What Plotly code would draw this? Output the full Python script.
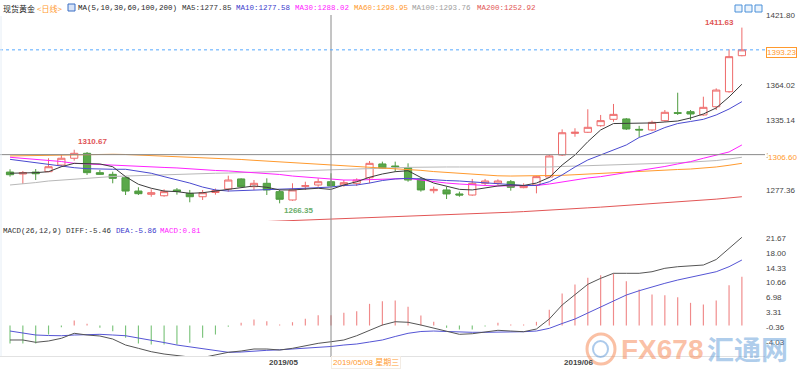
import plotly.graph_objects as go

# ---------------- data ----------------
dates = [
    "2019-04-03", "2019-04-04", "2019-04-05", "2019-04-08", "2019-04-09", "2019-04-10", "2019-04-11",
    "2019-04-12", "2019-04-15", "2019-04-16", "2019-04-17", "2019-04-18", "2019-04-19", "2019-04-22",
    "2019-04-23", "2019-04-24", "2019-04-25", "2019-04-26", "2019-04-29", "2019-04-30",
    "2019-05-01", "2019-05-02", "2019-05-03", "2019-05-06", "2019-05-07", "2019-05-08", "2019-05-09",
    "2019-05-10", "2019-05-13", "2019-05-14", "2019-05-15", "2019-05-16", "2019-05-17", "2019-05-20",
    "2019-05-21", "2019-05-22", "2019-05-23", "2019-05-24", "2019-05-27", "2019-05-28", "2019-05-29",
    "2019-05-30", "2019-05-31",
    "2019-06-03", "2019-06-04", "2019-06-05", "2019-06-06", "2019-06-07", "2019-06-10", "2019-06-11",
    "2019-06-12", "2019-06-13", "2019-06-14", "2019-06-17", "2019-06-18", "2019-06-19", "2019-06-20",
    "2019-06-21",
]
open_ = [1292.2, 1290.6, 1292.2, 1292.5, 1298.0, 1303.6, 1307.7, 1291.7, 1290.3, 1287.5,
         1276.5, 1273.8, 1272.6, 1277.4, 1274.6, 1271.8, 1275.3, 1278.2, 1286.5, 1280.1,
         1282.9, 1276.0, 1269.1, 1280.4, 1281.5, 1284.2, 1281.5, 1282.9, 1287.5, 1298.9,
         1297.2, 1295.8, 1286.5, 1276.8, 1277.4, 1274.1, 1273.2, 1282.9, 1282.9, 1284.2,
         1279.3, 1281.5, 1288.1, 1306.3, 1324.2, 1325.1, 1330.5, 1335.8, 1336.1, 1327.5,
         1327.0, 1334.7, 1341.3, 1342.1, 1339.4, 1346.2, 1358.6, 1388.4]
high = [1294.5, 1293.1, 1294.7, 1303.6, 1306.3, 1310.67, 1308.8, 1293.9, 1292.5, 1288.4,
        1279.6, 1277.9, 1277.9, 1279.0, 1277.4, 1277.4, 1278.6, 1289.2, 1287.0, 1285.6,
        1287.0, 1277.4, 1282.9, 1284.2, 1287.0, 1291.2, 1285.6, 1287.0, 1301.3, 1300.8,
        1300.8, 1299.4, 1287.9, 1280.1, 1280.1, 1276.0, 1286.5, 1286.5, 1286.2, 1285.6,
        1282.9, 1288.9, 1306.3, 1327.5, 1328.4, 1344.1, 1339.4, 1348.5, 1336.9, 1330.4,
        1334.7, 1343.5, 1357.8, 1343.5, 1354.5, 1361.4, 1393.7, 1411.63]
low = [1288.4, 1282.3, 1285.6, 1292.2, 1296.6, 1301.6, 1289.8, 1289.8, 1282.9, 1273.2,
       1273.2, 1271.8, 1271.8, 1273.5, 1267.2, 1269.1, 1273.5, 1276.0, 1279.6, 1277.4,
       1273.2, 1266.35, 1268.5, 1277.4, 1280.1, 1280.1, 1280.1, 1280.7, 1282.9, 1294.7,
       1292.5, 1284.2, 1276.0, 1274.6, 1269.9, 1271.8, 1272.6, 1281.5, 1281.5, 1276.8,
       1278.8, 1274.6, 1287.3, 1305.5, 1321.4, 1324.5, 1329.7, 1333.8, 1327.0, 1321.2,
       1326.1, 1333.8, 1339.4, 1335.2, 1338.8, 1343.5, 1357.8, 1387.9]
close = [1290.0, 1291.7, 1290.8, 1296.6, 1303.6, 1307.7, 1291.7, 1290.3, 1287.0, 1276.5,
         1274.3, 1275.1, 1276.0, 1276.1, 1271.8, 1275.1, 1276.9, 1285.6, 1280.1, 1282.9,
         1277.4, 1269.7, 1277.4, 1280.9, 1284.2, 1280.7, 1283.4, 1285.6, 1299.4, 1295.3,
         1296.6, 1285.6, 1277.4, 1277.9, 1274.1, 1273.2, 1282.9, 1284.8, 1284.8, 1279.6,
         1280.7, 1288.4, 1305.5, 1324.7, 1325.1, 1329.2, 1334.7, 1339.9, 1327.8, 1327.0,
         1333.3, 1341.6, 1340.8, 1340.2, 1345.7, 1360.0, 1387.6, 1393.23]

ma5 = [1291.2, 1291.2, 1291.7, 1292.5, 1296.6, 1299.4, 1299.4, 1298.9, 1296.6, 1288.4,
       1282.1, 1278.8, 1276.5, 1276.0, 1274.6, 1275.1, 1276.5, 1277.8, 1279.4, 1280.7,
       1279.6, 1277.4, 1277.4, 1278.2, 1278.8, 1277.85, 1281.5, 1284.2, 1287.9, 1290.6,
       1292.5, 1293.3, 1287.7, 1283.1, 1280.3, 1277.9, 1277.4, 1279.0, 1280.7, 1281.5,
       1281.1, 1283.1, 1287.7, 1298.0, 1306.3, 1317.3, 1327.0, 1332.3, 1332.5, 1332.5,
       1332.8, 1333.6, 1334.4, 1336.9, 1340.2, 1345.2, 1354.3, 1364.8]
ma10 = [1302.7, 1301.3, 1299.4, 1298.0, 1296.6, 1295.8, 1295.0, 1294.5, 1294.5, 1294.5,
        1293.1, 1291.2, 1288.4, 1285.9, 1283.1, 1279.8, 1277.4, 1276.5, 1276.8, 1277.1,
        1277.4, 1277.6, 1278.2, 1278.8, 1279.3, 1279.8, 1281.1, 1281.5, 1283.1, 1285.2,
        1286.5, 1287.0, 1286.5, 1285.6, 1285.2, 1284.8, 1284.0, 1283.1, 1282.3, 1281.5,
        1281.1, 1281.1, 1284.2, 1289.8, 1296.4, 1302.2, 1306.3, 1310.4, 1314.6, 1320.8,
        1324.5, 1329.0, 1332.3, 1334.0, 1335.8, 1339.4, 1344.3, 1350.4]
ma30 = [1304.4, 1303.6, 1303.0, 1302.2, 1300.9, 1299.4, 1298.9, 1298.0, 1297.6, 1297.2,
        1296.6, 1296.4, 1296.0, 1295.6, 1294.7, 1293.9, 1293.5, 1293.1, 1292.5, 1291.8,
        1291.2, 1290.2, 1288.9, 1288.1, 1287.3, 1286.5, 1285.6, 1285.6, 1286.0, 1286.5,
        1287.0, 1286.9, 1285.6, 1284.2, 1283.1, 1282.3, 1281.5, 1281.1, 1280.7, 1280.7,
        1280.7, 1281.1, 1282.3, 1284.0, 1285.6, 1287.3, 1288.4, 1290.0, 1291.8, 1293.5,
        1295.1, 1296.8, 1298.9, 1300.8, 1303.6, 1305.9, 1308.8, 1314.6]
ma60 = [1305.5, 1305.7, 1306.1, 1306.3, 1306.5, 1306.9, 1307.1, 1307.1, 1306.9, 1306.7,
        1306.3, 1305.9, 1305.5, 1305.0, 1304.6, 1304.2, 1303.8, 1303.2, 1302.6, 1301.9,
        1301.3, 1300.5, 1299.7, 1299.1, 1298.6, 1298.0, 1297.4, 1296.8, 1296.1, 1295.6,
        1295.1, 1294.5, 1293.6, 1292.6, 1291.8, 1291.0, 1290.2, 1289.5, 1289.1, 1288.9,
        1288.9, 1288.9, 1289.1, 1289.5, 1290.0, 1290.6, 1291.2, 1291.6, 1292.1, 1292.6,
        1293.2, 1293.9, 1294.3, 1294.7, 1295.3, 1296.4, 1297.8, 1299.4]
ma100 = [1281.5, 1282.3, 1283.5, 1284.8, 1285.6, 1286.5, 1287.3, 1288.1, 1288.5, 1288.9,
         1289.3, 1289.8, 1290.0, 1290.3, 1290.6, 1290.8, 1291.2, 1291.4, 1291.7, 1292.0,
         1292.2, 1292.5, 1292.8, 1293.1, 1293.4, 1293.7, 1294.1, 1294.5, 1294.9, 1295.3,
         1295.7, 1296.1, 1296.4, 1296.4, 1296.4, 1296.4, 1296.4, 1296.4, 1296.4, 1296.2,
         1296.1, 1296.1, 1296.4, 1296.8, 1297.2, 1297.6, 1298.0, 1298.3, 1298.6, 1298.9,
         1299.2, 1299.5, 1299.8, 1300.3, 1300.9, 1301.7, 1303.0, 1304.4]
ma200_first = 20   # index of the first MA200 value visible in the pane
ma200 = [1251.3, 1251.7, 1252.2, 1252.6, 1252.8, 1252.92, 1253.4, 1253.8, 1254.2, 1254.6,
         1255.0, 1255.4, 1255.9, 1256.3, 1256.7, 1257.1, 1257.5, 1258.0, 1258.5, 1259.0,
         1259.5, 1260.0, 1260.6, 1261.2, 1261.9, 1262.6, 1263.2, 1263.9, 1264.5, 1265.2,
         1265.9, 1266.6, 1267.4, 1268.1, 1268.9, 1269.8, 1270.8, 1271.8]

diff = [-3.60, -3.60, -4.18, -3.85, -3.18, -1.94, -2.36, -2.61, -3.36, -4.85,
        -5.67, -6.51, -7.09, -7.46, -7.83, -7.96, -7.33, -6.66, -6.34, -5.84,
        -5.84, -6.09, -5.67, -5.02, -4.43, -4.03, -3.60, -2.54, -1.12, 0.12,
        0.94, 0.80, 0.12, -0.70, -1.37, -2.19, -2.04, -1.69, -1.19, -1.37,
        -1.54, -0.87, 1.62, 5.10, 7.76, 10.24, 11.73, 12.98, 12.98, 12.98,
        13.37, 14.22, 14.62, 14.92, 15.04, 16.41, 19.27, 21.93]
dea = [-1.37, -1.86, -2.36, -2.49, -2.54, -2.36, -2.24, -2.19, -2.36, -2.54,
       -3.11, -3.60, -4.23, -4.85, -5.34, -5.67, -6.22, -6.66, -6.59, -6.34,
       -6.17, -6.04, -5.84, -5.67, -5.47, -5.22, -4.85, -4.60, -4.10, -3.60,
       -2.73, -1.94, -1.49, -1.37, -1.49, -1.62, -1.69, -1.69, -1.69, -1.62,
       -1.54, -1.37, -0.70, 0.50, 1.62, 3.11, 4.67, 6.09, 7.58, 8.65,
       9.65, 10.49, 11.31, 11.98, 12.68, 13.37, 14.62, 16.28]
macd = [-4.47, -4.47, -4.47, -2.24, -0.42, 1.24, 0.42, -0.57, -1.42, -3.06,
        -4.47, -4.72, -4.72, -4.72, -4.30, -3.06, -2.24, -0.32, 0.67, 1.49,
        1.07, 0.25, 0.82, 1.67, 2.56, 2.56, 3.16, 3.55, 5.39, 6.04,
        6.22, 4.65, 2.49, 0.92, -0.57, -0.99, -0.99, -0.25, 0.67, 0.25,
        0.25, 0.92, 3.90, 7.96, 10.19, 11.86, 12.50, 12.93, 11.01, 8.95,
        7.71, 7.53, 7.04, 5.64, 5.22, 6.22, 10.02, 12.11]

price_ticks = [1277.36, 1306.25, 1335.14, 1364.02, 1392.91, 1421.80]
macd_ticks = [21.67, 18.00, 14.33, 10.66, 6.98, 3.31, -0.36, -4.03]

cross_idx = 25          # crosshair candle (2019/05/08)
cross_price = 1306.60   # crosshair price
legend_ma = [("MA5:1277.85", "#333333"), ("MA10:1277.58", "#3a3acc"),
             ("MA30:1288.02", "#ff22ff"), ("MA60:1298.95", "#ff9a2e"),
             ("MA100:1293.76", "#a0a0a0"), ("MA200:1252.92", "#e25656")]
macd_legend = [("MACD(26,12,9) DIFF:-5.46", "#333333"), ("DEA:-5.86", "#3a3acc"),
               ("MACD:0.81", "#ff22ff")]
hi_label, lo_label, last_hi_label = "1310.67", "1266.35", "1411.63"

# ---------------- layout helpers ----------------
W, H = 800, 376
ML, MR, MT, MB = 0, 35, 0, 20
PW, PH = W - ML - MR, H - MT - MB


def pyp(ypx):
    return (PH - ypx) / PH


def pxp(xpx):
    return xpx / PW


x = list(range(len(dates)))
UP, DOWN = "#ee6a6a", "#4f9c40"
MONO = "Liberation Mono, Noto Sans CJK SC, monospace"
SANS = "Liberation Sans, Arial, sans-serif"

fig = go.Figure()

fig.add_trace(go.Candlestick(
    x=x, open=open_, high=high, low=low, close=close,
    increasing=dict(line=dict(color=UP, width=1), fillcolor="#ffffff"),
    decreasing=dict(line=dict(color=DOWN, width=1), fillcolor="#5aa84a"),
    whiskerwidth=0, hoverinfo="skip", xaxis="x", yaxis="y", showlegend=False))

for series, col, xs in [
    (ma100, "#b8b8b8", x), (ma60, "#ff9a2e", x), (ma30, "#ff22ff", x),
    (ma200, "#e25656", x[ma200_first:]),
    (ma10, "#4a4ad0", x), (ma5, "#3c3c3c", x)]:
    fig.add_trace(go.Scatter(x=xs, y=series, mode="lines",
                             line=dict(color=col, width=1), hoverinfo="skip",
                             xaxis="x", yaxis="y", showlegend=False))

bar_colors = ["#f08a8a" if v >= 0 else "#7cc47c" for v in macd]
fig.add_trace(go.Bar(x=x, y=macd, marker=dict(color=bar_colors, line=dict(width=0)),
                     width=0.09, xaxis="x", yaxis="y2", hoverinfo="skip", showlegend=False))
fig.add_trace(go.Scatter(x=x, y=dea, mode="lines", line=dict(color="#5555d5", width=1),
                         xaxis="x", yaxis="y2", hoverinfo="skip", showlegend=False))
fig.add_trace(go.Scatter(x=x, y=diff, mode="lines", line=dict(color="#555555", width=1),
                         xaxis="x", yaxis="y2", hoverinfo="skip", showlegend=False))

# ---------------- axes ----------------
main_top, main_bot, macd_top = 13, 221, 226
fig.update_layout(
    template="none",
    width=W, height=H, margin=dict(l=ML, r=MR, t=MT, b=MB, pad=0, autoexpand=False),
    paper_bgcolor="white", plot_bgcolor="white", showlegend=False, boxgap=0.2,
    hovermode=False,
    xaxis=dict(domain=[0, 1], range=[-0.78, 58.8], anchor="y2", showticklabels=False,
               showgrid=False, zeroline=False, showline=True, linecolor="#e2e2e2",
               linewidth=1, ticks="", automargin=False,
               rangeslider=dict(visible=False), fixedrange=True),
    yaxis=dict(domain=[pyp(main_bot), pyp(main_top)], range=[1251.73, 1423.70],
               side="right", anchor="x", tickvals=price_ticks, automargin=False,
               ticktext=[f"{v:.2f}" for v in price_ticks], ticklen=0,
               tickfont=dict(family=SANS, size=8, color="#444444"),
               showgrid=False, zeroline=False, showline=False, ticks=""),
    yaxis2=dict(domain=[0, pyp(macd_top)], range=[-7.58, 24.74], side="right", anchor="x",
                tickvals=macd_ticks, ticktext=[f"{v:.2f}" for v in macd_ticks],
                automargin=False, ticklen=0,
                tickfont=dict(family=SANS, size=8, color="#444444"),
                showgrid=False, zeroline=False, showline=False, ticks=""),
)

shapes = []
# crosshair
shapes.append(dict(type="line", xref="x", yref="paper", x0=cross_idx, x1=cross_idx,
                   y0=pyp(357), y1=pyp(15), line=dict(color="#8a8a8a", width=1)))
shapes.append(dict(type="line", xref="paper", yref="y", x0=0, x1=1,
                   y0=cross_price, y1=cross_price, line=dict(color="#8a8a8a", width=1)))
# last price line
shapes.append(dict(type="line", xref="paper", yref="y", x0=0, x1=1,
                   y0=close[-1], y1=close[-1], line=dict(color="#55a8ff", width=1, dash="dot")))
# left border
shapes.append(dict(type="line", xref="paper", yref="paper", x0=pxp(1), x1=pxp(1),
                   y0=0, y1=pyp(16), line=dict(color="#e6eef6", width=1)))
# small icons top right
for k in range(3):
    x0 = 735 + k * 10
    shapes.append(dict(type="rect", xref="paper", yref="paper", x0=pxp(x0), x1=pxp(x0 + 7),
                       y0=pyp(12), y1=pyp(5), line=dict(color="#4a90d9", width=1),
                       fillcolor="#eaf3fc"))
# legend icon
shapes.append(dict(type="rect", xref="paper", yref="paper", x0=pxp(68), x1=pxp(75),
                   y0=pyp(11), y1=pyp(4), line=dict(color="#3b6fc4", width=1),
                   fillcolor="#d9e4f7"))
# watermark logo
shapes.append(dict(type="circle", xref="paper", yref="paper", x0=pxp(587), x1=pxp(615),
                   y0=pyp(364), y1=pyp(334), line=dict(color="rgba(245,140,90,0.55)", width=3)))
shapes.append(dict(type="circle", xref="paper", yref="paper", x0=pxp(593), x1=pxp(608),
                   y0=pyp(357), y1=pyp(341), line=dict(color="rgba(90,150,215,0.5)", width=2)))

ann = []
# top legend
ann.append(dict(text="现货黄金", x=pxp(1), y=pyp(8), font=dict(size=8, color="#222222",
                family="Noto Sans CJK SC")))
ann.append(dict(text="&lt;日线&gt;", x=pxp(35), y=pyp(8), font=dict(size=8, color="#ff9a2e",
                family="Noto Sans CJK SC")))
ann.append(dict(text="MA(5,10,30,60,100,200)", x=pxp(76), y=pyp(8),
                font=dict(size=7.5, color="#222222", family=MONO)))
ma_x = [180, 234, 293, 352, 410, 475]
for (t, c), xx in zip(legend_ma, ma_x):
    ann.append(dict(text=t, x=pxp(xx), y=pyp(8), font=dict(size=7.5, color=c, family=MONO)))
# macd legend
mx = [1, 114, 158]
for (t, c), xx in zip(macd_legend, mx):
    ann.append(dict(text=t, x=pxp(xx), y=pyp(231), font=dict(size=7.5, color=c, family=MONO)))
for a in ann:
    a.update(xref="paper", yref="paper", xanchor="left", yanchor="middle", showarrow=False)

# high / low labels
i_hi = high.index(max(high[:20]))
i_lo = low.index(min(low))
ann.append(dict(text=f"<b>{hi_label}</b>", xref="x", yref="y", x=i_hi, y=high[i_hi],
                xanchor="left", yanchor="bottom", xshift=2, yshift=2, showarrow=False,
                font=dict(size=8, color="#e05555", family=SANS)))
ann.append(dict(text=f"<b>{lo_label}</b>", xref="x", yref="y", x=i_lo, y=low[i_lo],
                xanchor="left", yanchor="top", xshift=2, yshift=-1, showarrow=False,
                font=dict(size=8, color="#6aad6a", family=SANS)))
ann.append(dict(text=f"<b>{last_hi_label}</b>", xref="x", yref="y", x=len(x) - 1, y=high[-1],
                xanchor="right", yanchor="middle", xshift=-6, yshift=5, showarrow=False,
                font=dict(size=8, color="#e05555", family=SANS)))
# price labels at right
ann.append(dict(text=f"{close[-1]:.2f}", xref="paper", yref="y", x=1.0, y=close[-1],
                xanchor="left", yanchor="middle", xshift=1, yshift=-3, showarrow=False,
                bgcolor="white", bordercolor="#ff9a2e", borderwidth=1, borderpad=0,
                font=dict(size=8, color="#ff9a2e", family=SANS)))
ann.append(dict(text=f"{cross_price:.2f}", xref="paper", yref="y", x=1.0, y=cross_price,
                xanchor="left", yanchor="middle", xshift=2, yshift=-3, showarrow=False,
                bgcolor="white", borderpad=0,
                font=dict(size=8, color="#ff9a2e", family=SANS)))
# month labels
seen = set()
for i, d in enumerate(dates):
    m = d[:7]
    if m not in seen:
        seen.add(m)
        if i > 0:
            ann.append(dict(text="<b>" + m.replace("-", "/") + "</b>", xref="x", yref="paper",
                            x=i, y=pyp(362), xanchor="left", yanchor="middle", showarrow=False,
                            font=dict(size=8, color="#444444", family=SANS)))
ann.append(dict(text=dates[cross_idx].replace("-", "/") + " 星期三", xref="x", yref="paper",
                x=cross_idx, y=pyp(362), xanchor="left", yanchor="middle", showarrow=False,
                bgcolor="white", bordercolor="#f3ece4", borderwidth=1, borderpad=1,
                font=dict(size=8, color="#ff9a2e", family="Liberation Sans, Noto Sans CJK SC")))
# watermark
ann.append(dict(text="<b>FX678</b>", xref="paper", yref="paper", x=pxp(619), y=pyp(349),
                xanchor="left", yanchor="middle", showarrow=False,
                font=dict(size=28, color="rgba(246,140,90,0.55)", family=SANS)))
ann.append(dict(text="<b>汇通网</b>", xref="paper", yref="paper", x=pxp(705), y=pyp(348),
                xanchor="left", yanchor="middle", showarrow=False,
                font=dict(size=27, color="rgba(95,155,215,0.5)", family="Noto Sans CJK SC")))

fig.update_layout(shapes=shapes, annotations=ann)
fig.write_html("out.html", config={"displayModeBar": False, "staticPlot": True},
               post_script="document.body.style.margin='0';document.body.style.padding='0';"
                           "document.body.style.overflow='hidden';")
